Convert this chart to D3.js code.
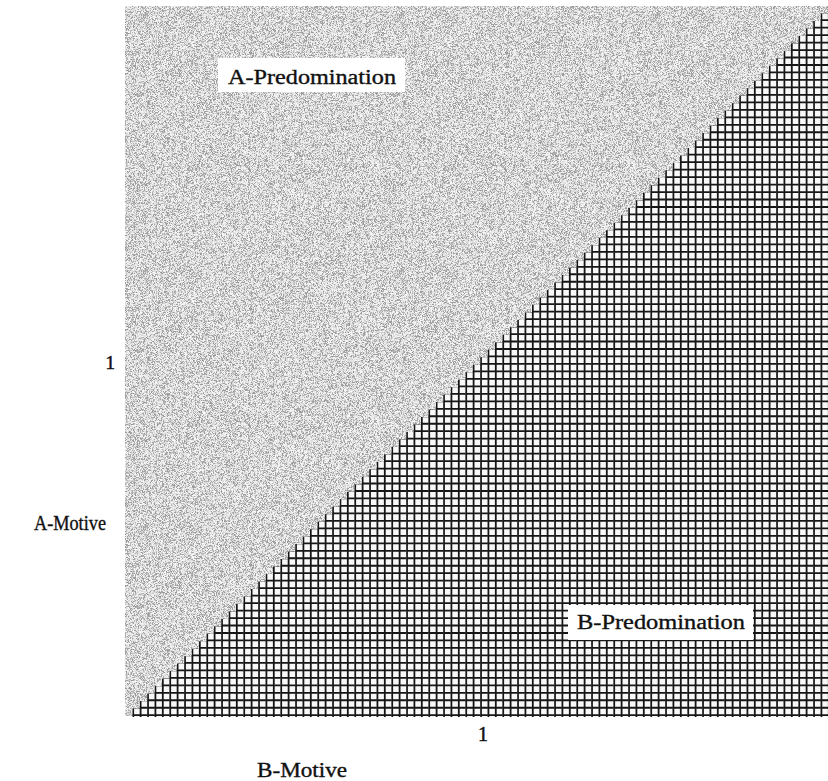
<!DOCTYPE html>
<html>
<head>
<meta charset="utf-8">
<script src="https://cdn.jsdelivr.net/npm/d3@7/dist/d3.min.js"></script>
<style>
  html, body { margin: 0; padding: 0; background: #fff; }
  svg { display: block; }
  text { font-family: "Liberation Serif", "DejaVu Serif", serif; fill: #111; }
</style>
</head>
<body>
<svg id="chart" width="828" height="781"></svg>
<script>
// ---- data ----
const bMotiveDomain = [0, 2];          // x axis (B-Motive)
const aMotiveDomain = [0, 2];          // y axis (A-Motive)
const xTickValues = [1];
const yTickValues = [1];
const boundaryB = [0, 2];              // A-Motive = B-Motive boundary
const boundaryA = [0, 2];
const regionNames = ["A-Predomination", "B-Predomination"];
const axisNames = ["B-Motive", "A-Motive"];
const gridCells = 95;

// ---- layout ----
const pLeft = 125, pRight = 828, pTop = 6, pBottom = 716;
const svg = d3.select("#chart");
const x = d3.scaleLinear().domain(bMotiveDomain).range([pLeft, pRight]);
const y = d3.scaleLinear().domain(aMotiveDomain).range([pBottom, pTop]);

// deterministic stipple texture
const NT = 256;
const cv = document.createElement("canvas");
cv.width = NT; cv.height = NT;
const ctx = cv.getContext("2d");
const img = ctx.createImageData(NT, NT);
function hash(i, j, s) {
  let h = (Math.imul(i, 374761393) + Math.imul(j, 668265263) + Math.imul(s, 1442695041)) | 0;
  h = Math.imul(h ^ (h >>> 13), 1274126177);
  h = h ^ (h >>> 16);
  return (h >>> 0) / 4294967296;
}
for (let j = 0; j < NT; j++) for (let i = 0; i < NT; i++) {
  const h = hash(i, j, 1);
  const v = h < 0.33 ? 150 + Math.floor(hash(i, j, 2) * 40) : 208 + Math.floor(hash(i, j, 3) * 44);
  const k = (j * NT + i) * 4;
  img.data[k] = img.data[k + 1] = img.data[k + 2] = v; img.data[k + 3] = 255;
}
ctx.putImageData(img, 0, 0);
const url = cv.toDataURL();

const defs = svg.append("defs");
defs.append("pattern").attr("id", "noise").attr("patternUnits", "userSpaceOnUse")
  .attr("width", NT).attr("height", NT)
  .append("image").attr("href", url).attr("width", NT).attr("height", NT)
  .style("image-rendering", "pixelated");

// full plot area stippled
svg.append("rect")
  .attr("x", x(bMotiveDomain[0])).attr("y", y(aMotiveDomain[1]))
  .attr("width", x(bMotiveDomain[1]) - x(bMotiveDomain[0]))
  .attr("height", y(aMotiveDomain[0]) - y(aMotiveDomain[1]))
  .attr("fill", "url(#noise)");

// staircase region below boundary (B-Predomination)
const cellX = d3.range(gridCells + 1).map(i => bMotiveDomain[0] + (bMotiveDomain[1] - bMotiveDomain[0]) * i / gridCells);
const cellY = d3.range(gridCells + 1).map(i => aMotiveDomain[0] + (aMotiveDomain[1] - aMotiveDomain[0]) * i / gridCells);
const slope = (boundaryA[1] - boundaryA[0]) / (boundaryB[1] - boundaryB[0]);
const clip = defs.append("clipPath").attr("id", "stair");
for (let i = 0; i < gridCells; i++) {
  const cx = (cellX[i] + cellX[i + 1]) / 2;
  const lineA = boundaryA[0] + slope * (cx - boundaryB[0]);
  let rows = 0;
  for (let j = 0; j < gridCells; j++) {
    const cy = (cellY[j] + cellY[j + 1]) / 2;
    if (cy < lineA - 1e-9) rows = j + 1;
  }
  if (rows === 0) continue;
  clip.append("rect")
    .attr("x", x(cellX[i])).attr("width", x(cellX[i + 1]) - x(cellX[i]) + 0.3)
    .attr("y", y(cellY[rows])).attr("height", y(cellY[0]) - y(cellY[rows]) + 1);
}
const gGrid = svg.append("g").attr("clip-path", "url(#stair)");
gGrid.append("rect").attr("x", pLeft).attr("y", pTop).attr("width", pRight - pLeft).attr("height", pBottom - pTop + 2).attr("fill", "#f8f8f8");
gGrid.selectAll("line.v").data(cellX).join("line").attr("class", "v")
  .attr("x1", d => x(d) + 0.8).attr("x2", d => x(d) + 0.8)
  .attr("y1", pTop).attr("y2", pBottom + 1)
  .attr("stroke", "#161616").attr("stroke-width", 1.8);
gGrid.selectAll("line.h").data(cellY).join("line").attr("class", "h")
  .attr("y1", d => y(d) - 0.8).attr("y2", d => y(d) - 0.8)
  .attr("x1", pLeft).attr("x2", pRight)
  .attr("stroke", "#161616").attr("stroke-width", 1.8);

// axes (tick labels only)
const xAxis = svg.append("g").attr("transform", `translate(0,${pBottom})`)
  .call(d3.axisBottom(x).tickValues(xTickValues).tickSize(0).tickFormat(d3.format("d")));
xAxis.select(".domain").remove();
xAxis.selectAll("text").attr("y", 0).attr("dy", 25).attr("dx", 6)
  .style("font-family", '"Liberation Serif", serif').style("font-size", "20px")
  .attr("fill", "#111").attr("stroke", "#111").attr("stroke-width", 0.5);

const yAxis = svg.append("g").attr("transform", `translate(${pLeft},0)`)
  .call(d3.axisLeft(y).tickValues(yTickValues).tickSize(0).tickFormat(d3.format("d")));
yAxis.select(".domain").remove();
yAxis.selectAll("text").attr("x", -10).attr("dy", 7)
  .style("font-family", '"Liberation Serif", serif').style("font-size", "19px")
  .attr("fill", "#111").attr("stroke", "#111").attr("stroke-width", 0.5);

// region labels with white boxes
const regionLabelPos = [
  { tx: 228, ty: 84, box: [218, 58, 187, 34] },
  { tx: 577, ty: 629, box: [568, 605, 185, 35] }
];
regionNames.forEach((name, i) => {
  const p = regionLabelPos[i];
  svg.append("rect").attr("x", p.box[0]).attr("y", p.box[1]).attr("width", p.box[2]).attr("height", p.box[3]).attr("fill", "#fff");
  svg.append("text").attr("x", p.tx).attr("y", p.ty)
    .attr("font-size", 20).attr("textLength", 168).attr("lengthAdjust", "spacingAndGlyphs")
    .attr("stroke", "#111").attr("stroke-width", 0.35)
    .text(name);
});

// axis names
svg.append("text").attr("x", 257).attr("y", 777).attr("font-size", 20)
  .attr("textLength", 90).attr("lengthAdjust", "spacingAndGlyphs")
  .attr("stroke", "#111").attr("stroke-width", 0.35).text(axisNames[0]);
svg.append("text").attr("x", 34).attr("y", 530).attr("font-size", 20)
  .attr("textLength", 72).attr("lengthAdjust", "spacingAndGlyphs")
  .attr("stroke", "#111").attr("stroke-width", 0.35).text(axisNames[1]);
</script>
</body>
</html>
